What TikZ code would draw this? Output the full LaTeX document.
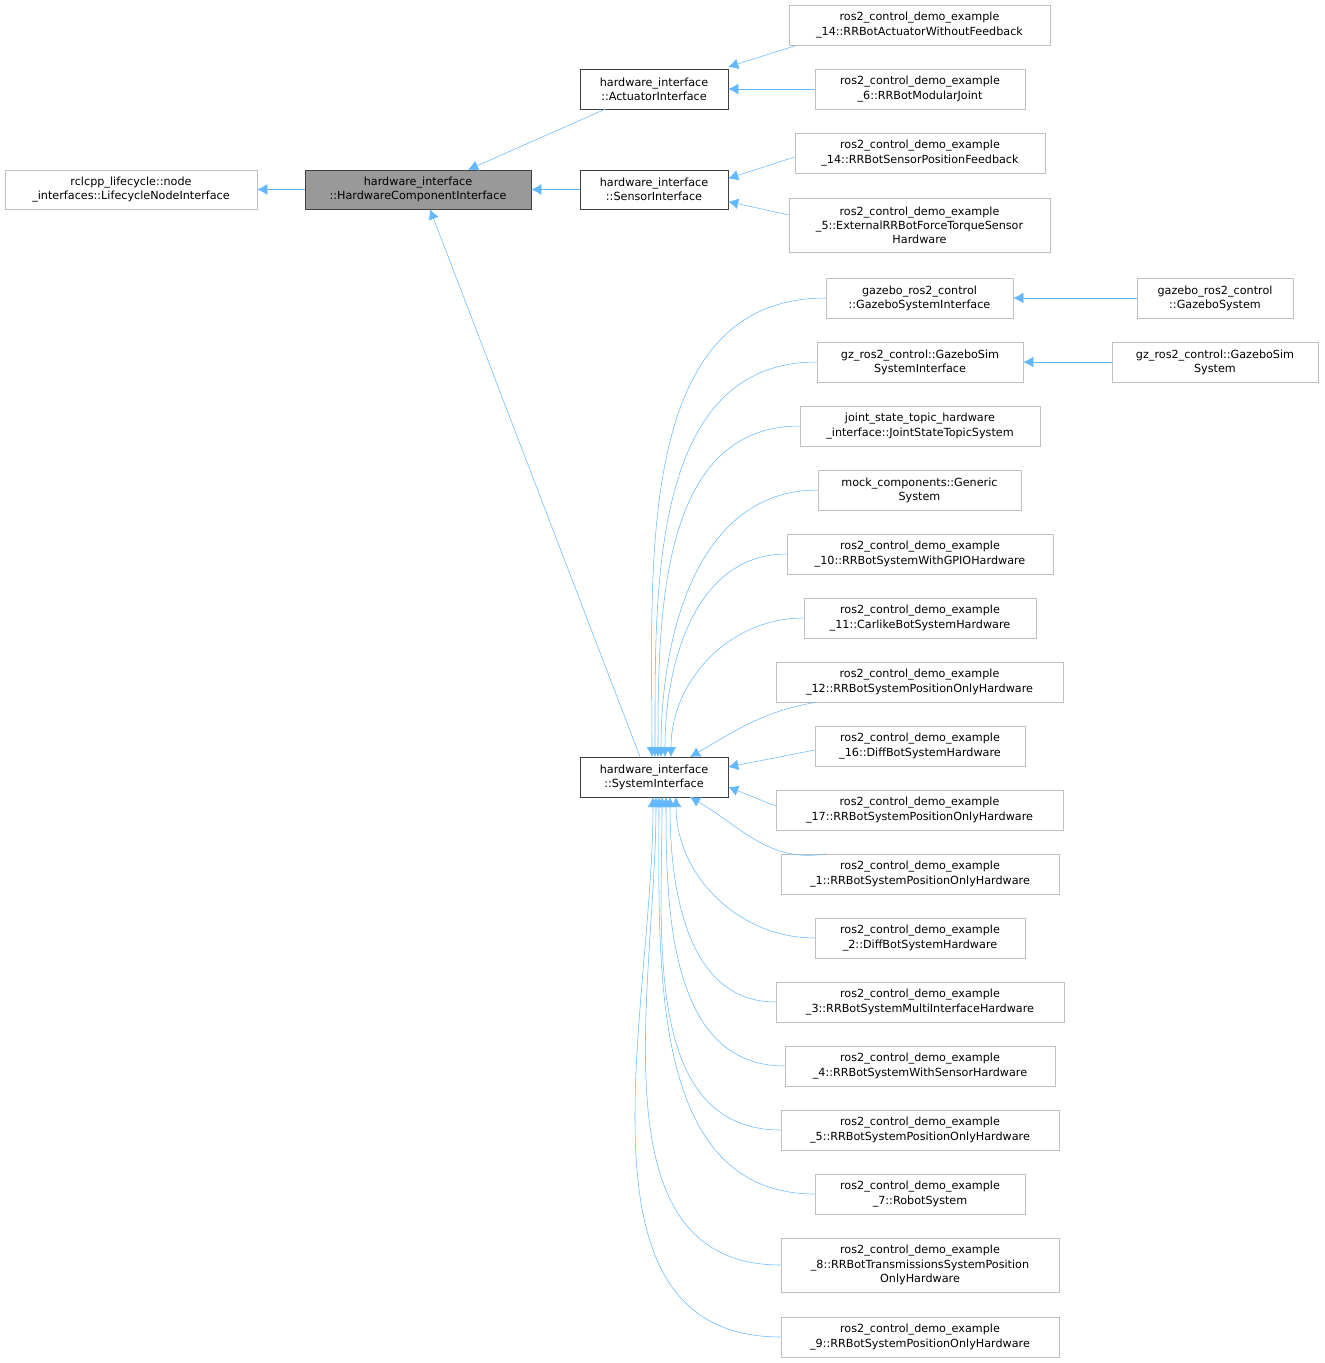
\documentclass[tikz,border=0pt]{standalone}
\usepackage{fontspec}
\setmainfont{DejaVu Sans}
\usetikzlibrary{arrows.meta}
\definecolor{edgec}{HTML}{63B8FF}
\definecolor{lb}{HTML}{BFBFBF}
\definecolor{db}{HTML}{404040}
\definecolor{hf}{HTML}{999999}
\newcommand\bx[7]{%
\pgfmathsetmacro\bw{(#5-#3)*0.75}\pgfmathsetmacro\bh{(#6-#4)*0.75}%
\node[#1,minimum width=\bw pt,minimum height=\bh pt] (#2) at ({(#3+#5)/2},{(#4+#6)/2}) {#7};}
\begin{document}
\begin{tikzpicture}[x=0.75pt,y=-0.75pt,
 lbox/.style={draw=lb,fill=white,inner sep=0pt,align=center,font=\fontsize{8.4}{10.6}\selectfont},
 dbox/.style={lbox,draw=db},
 hbox/.style={lbox,draw=db,fill=hf},
 e/.style={draw=edgec,{Latex[width=8pt,length=7.5pt]}-}]
\useasboundingbox (0,0) rectangle (1324,1363);
\bx{lbox}{rc}{5}{170}{257}{209}{rclcpp\_lifecycle::node\\\_interfaces::LifecycleNodeInterface}
\bx{hbox}{hci}{305}{170}{531}{209}{hardware\_interface\\::HardwareComponentInterface}
\bx{dbox}{act}{580}{69}{728}{109}{hardware\_interface\\::ActuatorInterface}
\bx{dbox}{sen}{580}{170}{728}{209}{hardware\_interface\\::SensorInterface}
\bx{dbox}{sys}{580}{757}{728}{797}{hardware\_interface\\::SystemInterface}
\bx{lbox}{a1}{789}{5}{1050}{45}{ros2\_control\_demo\_example\\\_14::RRBotActuatorWithoutFeedback}
\bx{lbox}{a2}{815}{69}{1025}{109}{ros2\_control\_demo\_example\\\_6::RRBotModularJoint}
\bx{lbox}{s1}{795}{133}{1045}{173}{ros2\_control\_demo\_example\\\_14::RRBotSensorPositionFeedback}
\bx{lbox}{s2}{789}{198}{1050}{252}{ros2\_control\_demo\_example\\\_5::ExternalRRBotForceTorqueSensor\\Hardware}
\bx{lbox}{gsi}{826}{278}{1013}{318}{gazebo\_ros2\_control\\::GazeboSystemInterface}
\bx{lbox}{gs}{1137}{278}{1293}{318}{gazebo\_ros2\_control\\::GazeboSystem}
\bx{lbox}{zsi}{817}{342}{1023}{382}{gz\_ros2\_control::GazeboSim\\SystemInterface}
\bx{lbox}{zs}{1112}{342}{1318}{382}{gz\_ros2\_control::GazeboSim\\System}
\bx{lbox}{js}{800}{406}{1040}{446}{joint\_state\_topic\_hardware\\\_interface::JointStateTopicSystem}
\bx{lbox}{mk}{818}{470}{1021}{510}{mock\_components::Generic\\System}
\bx{lbox}{c10}{787}{534}{1053}{574}{ros2\_control\_demo\_example\\\_10::RRBotSystemWithGPIOHardware}
\bx{lbox}{c11}{804}{598}{1036}{638}{ros2\_control\_demo\_example\\\_11::CarlikeBotSystemHardware}
\bx{lbox}{c12}{776}{662}{1063}{702}{ros2\_control\_demo\_example\\\_12::RRBotSystemPositionOnlyHardware}
\bx{lbox}{c16}{815}{726}{1025}{766}{ros2\_control\_demo\_example\\\_16::DiffBotSystemHardware}
\bx{lbox}{c17}{776}{790}{1063}{830}{ros2\_control\_demo\_example\\\_17::RRBotSystemPositionOnlyHardware}
\bx{lbox}{c1}{781}{854}{1059}{894}{ros2\_control\_demo\_example\\\_1::RRBotSystemPositionOnlyHardware}
\bx{lbox}{c2}{815}{918}{1025}{958}{ros2\_control\_demo\_example\\\_2::DiffBotSystemHardware}
\bx{lbox}{c3}{776}{982}{1064}{1022}{ros2\_control\_demo\_example\\\_3::RRBotSystemMultiInterfaceHardware}
\bx{lbox}{c4}{785}{1046}{1055}{1086}{ros2\_control\_demo\_example\\\_4::RRBotSystemWithSensorHardware}
\bx{lbox}{c5}{781}{1110}{1059}{1150}{ros2\_control\_demo\_example\\\_5::RRBotSystemPositionOnlyHardware}
\bx{lbox}{c7}{815}{1174}{1025}{1214}{ros2\_control\_demo\_example\\\_7::RobotSystem}
\bx{lbox}{c8}{781}{1238}{1059}{1292}{ros2\_control\_demo\_example\\\_8::RRBotTransmissionsSystemPosition\\OnlyHardware}
\bx{lbox}{c9}{781}{1317}{1059}{1357}{ros2\_control\_demo\_example\\\_9::RRBotSystemPositionOnlyHardware}
% inheritance edges
\draw[e] (rc.east) -- (hci.west);
\draw[e] (hci.east) -- (sen.west);
\draw[e] ([xshift=37.5pt]hci.north) -- ([xshift=-36.75pt]act.south);
\draw[e] ([xshift=9pt]hci.south) -- ([xshift=-10.5pt]sys.north);
\draw[e] ([yshift=16.5pt]act.east) -- ([xshift=6pt]a1.south west);
\draw[e] (act.east) -- (a2.west);
\draw[e] ([yshift=8.25pt]sen.east) -- ([yshift=-3pt]s1.west);
\draw[e] ([yshift=-9pt]sen.east) -- ([yshift=7.5pt]s2.west);
\draw[e] (gsi.east) -- (gs.west);
\draw[e] (zsi.east) -- (zs.west);
\foreach \n/\x in {gsi/652,zsi/655,js/658,mk/661,c10/665,c11/671}{
  \coordinate (t) at (\x,757);
  \draw[e] (t) to[out=90,in=180] (\n.west);
}
\coordinate (t12) at (690,757);
\draw[e] (t12) to[out=30,in=190] ([xshift=30pt]c12.south west);
\draw[e] ([yshift=7.5pt]sys.east) -- ([yshift=-3pt]c16.west);
\draw[e] ([yshift=-7.5pt]sys.east) -- ([yshift=3pt]c17.west);
\coordinate (t1) at (690,797);
\draw[e] (t1) to[out=-30,in=190] ([xshift=34pt]c1.north west);
\foreach \n/\x in {c2/676,c3/670,c4/666,c5/662,c7/659,c8/656,c9/653}{
  \coordinate (t) at (\x,797);
  \draw[e] (t) to[out=-90,in=180] (\n.west);
}
\end{tikzpicture}
\end{document}
